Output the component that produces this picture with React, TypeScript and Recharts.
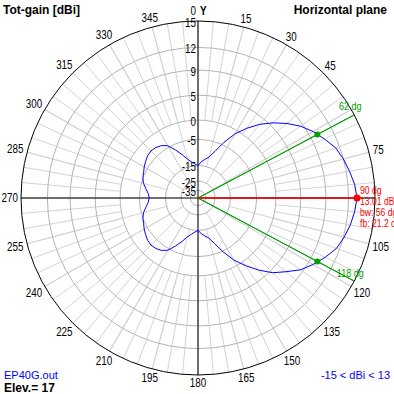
import React from 'react';
import { RadarChart, Radar, PolarGrid, PolarAngleAxis, PolarRadiusAxis } from 'recharts';

// ---------- data ----------
// compass angles (degrees, clockwise from the Y axis)
const patternAngles = [
  0, 5, 10, 15, 20, 25, 30, 35, 40, 45, 50, 55, 60, 65, 70, 75, 80, 85,
  90, 95, 100, 105, 110, 115, 120, 125, 130, 135, 140, 145, 150, 155, 160, 165, 170, 175,
  180, 185, 190, 195, 200, 205, 210, 215, 220, 225, 230, 235, 240, 245, 250, 255, 260, 265,
  270, 275, 280, 285, 290, 295, 300, 305, 310, 315, 320, 325, 330, 335, 340, 345, 350, 355,
];
// total gain in dBi at those angles
const patternGainDbi = [
  -15.0, -13.2, -11.9, -10.6, -7.9, -4.2, -0.9, 1.6, 3.8, 5.6, 7.2, 8.6, 9.7, 10.6, 11.5, 12.0, 12.4, 12.8,
  13.01, 12.8, 12.5, 12.1, 11.6, 10.7, 9.7, 8.6, 7.0, 5.5, 3.4, 1.0, -1.5, -4.8, -8.3, -11.0, -12.2, -13.5,
  -15.0, -14.2, -13.0, -11.5, -9.2, -6.8, -4.5, -3.5, -3.0, -2.8, -3.0, -3.5, -4.0, -4.6, -5.0, -5.7, -6.8, -7.8,
  -8.2, -7.8, -6.8, -5.7, -5.0, -4.6, -4.0, -3.5, -3.0, -2.8, -3.0, -3.5, -4.5, -6.8, -9.2, -11.5, -13.0, -14.2,
];

const ringLevelsDbi = [12, 9, 5, 0, -5, -15, -25, -35];
const radiusTickDbi = [15, 12, 9, 5, 0, -5, -15, -25, -35];
const angleTickValues = [0, 15, 30, 45, 60, 75, 90, 105, 120, 135, 150, 165, 180, 195, 210, 225, 240, 255, 270, 285, 300, 315, 330, 345];
const hiddenAngleTicks = [60, 90, 360];

const beamEdgeAngles = [62, 118];
const beamEdgeGainDbi = 10.01;
const beamEdgeLabels = ['62 dg', '118 dg'];

const mainLobeAngle = 90;
const mainLobeGainDbi = 13.01;
const mainLobeLabels = ['90 dg', '13.01 dB', 'bw: 56 dg', 'fb: 21.2 dB'];

const titleLeft = 'Tot-gain [dBi]';
const titleRight = 'Horizontal plane';
const fileName = 'EP40G.out';
const elevationText = 'Elev.= 17';
const rangeText = '-15 < dBi < 13';
const axisName = 'Y';

// spoke layers: inner ring level (dBi) and spacing (degrees)
const spokeLayers = [
  { fromDbi: 0, step: 5 },
  { fromDbi: -15, step: 15 },
  { fromDbi: -25, step: 30 },
];

// ---------- layout / scale ----------
const W = 394;
const H = 394;
const CX = 198;
const CY = 198;
const R = 177;
const MAX_DBI = 15;

// logarithmic (ARRL-like) radial mapping of dBi to a fraction of the outer radius
const toU = (db: number) => Math.max(0, (183 * Math.exp(0.052 * (db - MAX_DBI)) - 6) / 177);
const compassToPolar = (a: number) => 90 - a;

const SANS = "'Liberation Sans', Arial, sans-serif";
const BLUE = '#0000ff';
const GREEN = '#00a000';
const RED = '#ff0000';
const SQUEEZE = 0.82;

const patternData = patternAngles.map((a, i) => ({ angle: a, gain: toU(patternGainDbi[i]) }));

type BeamRow = { angle: number; beam: number; role?: string; label?: string };
const beamData: BeamRow[] = [];
beamEdgeAngles.forEach((a, i) => {
  beamData.push({ angle: a, beam: 0 });
  beamData.push({ angle: a, beam: toU(beamEdgeGainDbi), role: 'dot' });
  beamData.push({ angle: a, beam: 1, role: 'end', label: beamEdgeLabels[i] });
});

const mainData = [
  { angle: mainLobeAngle, main: 0 },
  { angle: mainLobeAngle, main: toU(mainLobeGainDbi), role: 'dot' },
];

const ringPx = ringLevelsDbi.map((d) => R * toU(d));
const radiusTickU = radiusTickDbi.map((d) => toU(d));

const NarrowText = ({ x, y, anchor = 'start', size = 12, fill = '#000', bold = false, children }: any) => (
  <text
    transform={`translate(${x},${y}) scale(${SQUEEZE},1)`}
    x={0}
    y={0}
    textAnchor={anchor}
    fill={fill}
    style={{ fontFamily: SANS, fontSize: size, fontWeight: bold ? 'bold' : 'normal' }}
  >
    {children}
  </text>
);

const AngleTick = (props: any) => {
  const { x, y, payload } = props;
  const v = Number(payload?.value);
  if (hiddenAngleTicks.includes(v)) return <g />;
  const label = String(v);
  const rad = (v * Math.PI) / 180;
  const s = Math.sin(rad);
  const c = Math.cos(rad);
  const w = label.length * 5.5;
  const h = 9;
  const off = (Math.abs(s) * w) / 2 + (Math.abs(c) * h) / 2;
  const tx = x + s * off;
  const ty = y - c * off + 4.2;
  if (v === 0) {
    return (
      <g>
        <NarrowText x={x - 2} y={ty - 2.5} anchor="end">{label}</NarrowText>
        <NarrowText x={x + 2} y={ty - 2.5} anchor="start" bold>{axisName}</NarrowText>
      </g>
    );
  }
  return <NarrowText x={tx} y={ty} anchor="middle">{label}</NarrowText>;
};

const RadiusTick = (props: any) => {
  const { x, y, payload } = props;
  const u = Number(payload?.value);
  let best = 0;
  radiusTickU.forEach((t, i) => {
    if (Math.abs(t - u) < Math.abs(radiusTickU[best] - u)) best = i;
  });
  return <NarrowText x={x - 2} y={y + 5.5} anchor="end">{String(radiusTickDbi[best])}</NarrowText>;
};

const BeamDot = (props: any) => {
  const { cx, cy, payload, index } = props;
  const k = `b-${index}`;
  if (!payload || !Number.isFinite(cx) || !Number.isFinite(cy)) return <g key={k} />;
  if (payload.role === 'dot') return <circle key={k} cx={cx} cy={cy} r={3} fill={GREEN} stroke="none" />;
  if (payload.role === 'end')
    return (
      <g key={k}>
        <NarrowText x={cx - 4} y={cy - 4.5} anchor="middle" size={11} fill={GREEN}>{payload.label}</NarrowText>
      </g>
    );
  return <g key={k} />;
};

const MainDot = (props: any) => {
  const { cx, cy, payload, index } = props;
  const k = `m-${index}`;
  if (!payload || payload.role !== 'dot' || !Number.isFinite(cx)) return <g key={k} />;
  return (
    <g key={k}>
      <circle cx={cx} cy={cy} r={3.5} fill={RED} stroke="none" />
      {mainLobeLabels.map((t, i) => (
        <NarrowText key={t} x={cx + 3} y={cy - 4.5 + i * 11.2} size={10.5} fill={RED}>{t}</NarrowText>
      ))}
    </g>
  );
};

const zeroMargin = { top: 0, right: 0, bottom: 0, left: 0 };
const layerStyle: React.CSSProperties = { position: 'absolute', left: 0, top: 0 };
const chartFrame = {
  width: W,
  height: H,
  cx: CX,
  cy: CY,
  outerRadius: R,
  startAngle: 90,
  endAngle: -270,
  margin: zeroMargin,
};

function SeriesLayer({ data, children }: any) {
  return (
    <div style={layerStyle}>
      <RadarChart {...chartFrame} innerRadius={0} data={data}>
        <PolarAngleAxis dataKey="angle" type="number" domain={[0, 360]} allowDataOverflow axisLine={false} tickLine={false} tick={false} />
        <PolarRadiusAxis type="number" domain={[0, 1]} allowDataOverflow axisLine={false} tick={false} />
        {children}
      </RadarChart>
    </div>
  );
}

export default function App() {
  return (
    <div style={{ position: 'absolute', left: 0, top: 0, width: W, height: H, background: '#fff', overflow: 'hidden' }}>
      {spokeLayers.map((layer) => {
        const angles: number[] = [];
        for (let a = 0; a < 360; a += layer.step) angles.push(compassToPolar(a));
        return (
          <div key={layer.fromDbi} style={layerStyle}>
            <RadarChart {...chartFrame} innerRadius={R * toU(layer.fromDbi)} data={[{ angle: 0 }]}>
              <PolarGrid gridType="circle" polarRadius={[]} polarAngles={angles} stroke="#d4d4d4" strokeWidth={1} />
            </RadarChart>
          </div>
        );
      })}
      <div style={layerStyle}>
        <RadarChart {...chartFrame} innerRadius={0} data={patternData}>
          <PolarGrid gridType="circle" radialLines={false} polarRadius={ringPx} polarAngles={[]} stroke="#b4b4b4" strokeWidth={1} />
          <PolarGrid gridType="circle" polarRadius={[]} polarAngles={[0, 90, 180, 270].map(compassToPolar)} stroke="#000" strokeWidth={1} />
          <PolarAngleAxis
            dataKey="angle"
            type="number"
            domain={[0, 360]}
            ticks={angleTickValues as any}
            tickCount={25}
            allowDataOverflow
            axisLine={{ stroke: '#000', strokeWidth: 1 }}
            axisLineType="circle"
            stroke="#000"
            tickLine={false}
            tickSize={3}
            tick={AngleTick}
          />
          <PolarRadiusAxis
            angle={90}
            type="number"
            domain={[0, 1]}
            ticks={radiusTickU as any}
            allowDataOverflow
            axisLine={false}
            tick={RadiusTick}
          />
          <Radar dataKey="gain" stroke={BLUE} strokeWidth={1} fill="none" fillOpacity={0} dot={false} isAnimationActive={false} />
        </RadarChart>
      </div>
      <SeriesLayer data={beamData}>
        <Radar dataKey="beam" stroke={GREEN} strokeWidth={1} fill="none" fillOpacity={0} dot={BeamDot} isAnimationActive={false} />
      </SeriesLayer>
      <SeriesLayer data={mainData}>
        <Radar dataKey="main" stroke={RED} strokeWidth={1} fill="none" fillOpacity={0} dot={MainDot} isAnimationActive={false} />
      </SeriesLayer>
      <svg width={W} height={H} style={{ ...layerStyle, pointerEvents: 'none' }}>
        <text x={3} y={14} fill="#000" style={{ fontFamily: SANS, fontSize: 12, fontWeight: 'bold' }}>{titleLeft}</text>
        <text x={387} y={14} textAnchor="end" fill="#000" style={{ fontFamily: SANS, fontSize: 12, fontWeight: 'bold' }}>{titleRight}</text>
        <text x={4} y={378.5} fill={BLUE} style={{ fontFamily: SANS, fontSize: 11 }}>{fileName}</text>
        <text x={4} y={391.5} fill="#000" style={{ fontFamily: SANS, fontSize: 12, fontWeight: 'bold' }}>{elevationText}</text>
        <text x={390} y={378.5} textAnchor="end" fill={BLUE} style={{ fontFamily: SANS, fontSize: 11 }}>{rangeText}</text>
      </svg>
    </div>
  );
}
